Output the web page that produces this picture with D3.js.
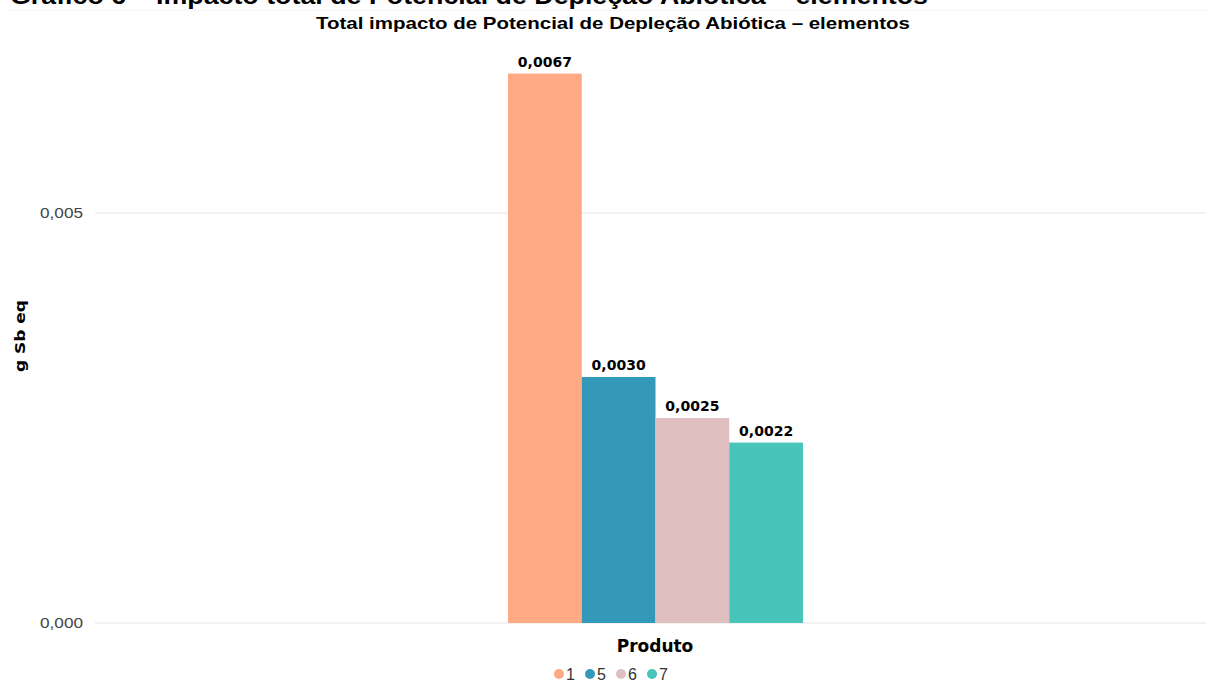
<!DOCTYPE html>
<html>
<head>
<meta charset="utf-8">
<script src="https://cdn.jsdelivr.net/npm/d3@7"></script>
<style>
  body { margin: 0; background: #fff; }
  svg { display: block; font-family: "Liberation Sans", Arial, sans-serif; }
</style>
</head>
<body>
<svg id="chart" width="1206" height="682"></svg>
<script>
// data
const produtos = ["1", "5", "6", "7"];
const valores = [0.0067, 0.0030, 0.0025, 0.0022];
const rotulos = ["0,0067", "0,0030", "0,0025", "0,0022"];
const yTicks = [0, 0.005];
const cores = ["#FFAA85", "#3499B8", "#DFBFBF", "#48C5BA"];

const svg = d3.select("#chart");
const fmt = d => d3.format(".3f")(d).replace(".", ",");

// page title, cut off at the top like the source image
svg.append("text").attr("x", 10).attr("y", 4)
  .attr("font-size", 24).attr("font-weight", "bold").attr("fill", "#000")
  .attr("textLength", 918).attr("lengthAdjust", "spacingAndGlyphs")
  .text("Gráfico 6 – Impacto total de Potencial de Depleção Abiótica – elementos");
svg.append("line").attr("x1", 10).attr("x2", 1206).attr("y1", 10).attr("y2", 10)
  .attr("stroke", "#f2f2f2");

svg.append("text").attr("x", 316).attr("y", 29)
  .attr("font-size", 17).attr("font-weight", "bold")
  .attr("textLength", 594).attr("lengthAdjust", "spacingAndGlyphs")
  .text("Total impacto de Potencial de Depleção Abiótica – elementos");

const margin = {top: 0, left: 95, right: 0};
const y = d3.scaleLinear().domain([0, 0.005]).range([623, 213]);
const x = d3.scaleBand().domain(produtos).range([508, 803]);

// grid + ticks
const grid = svg.append("g");
yTicks.forEach(t => {
  grid.append("line").attr("x1", margin.left).attr("x2", 1206)
    .attr("y1", y(t)).attr("y2", y(t)).attr("stroke", "#eeeeee").attr("stroke-width", 1.5);
  grid.append("text").attr("x", 40).attr("y", y(t) + 5)
    .attr("font-size", 15).attr("fill", "#444")
    .attr("textLength", 43).attr("lengthAdjust", "spacingAndGlyphs")
    .text(fmt(t));
});

svg.append("text").attr("transform", "translate(25,336) rotate(-90)")
  .attr("text-anchor", "middle").attr("font-size", 14).attr("font-weight", "bold")
  .attr("font-family", "'DejaVu Sans', sans-serif")
  .attr("textLength", 72).attr("lengthAdjust", "spacingAndGlyphs")
  .text("g Sb eq");

// bars
svg.append("g").selectAll("rect").data(produtos).join("rect")
  .attr("x", d => x(d)).attr("width", x.bandwidth())
  .attr("y", (d, i) => y(valores[i]))
  .attr("height", (d, i) => y(0) - y(valores[i]))
  .attr("fill", (d, i) => cores[i]);

svg.append("g").selectAll("text").data(produtos).join("text")
  .attr("x", d => x(d) + x.bandwidth() / 2)
  .attr("y", (d, i) => y(valores[i]) - 7)
  .attr("text-anchor", "middle").attr("font-size", 14).attr("font-weight", "bold")
  .attr("font-family", "'DejaVu Sans', sans-serif")
  .text((d, i) => rotulos[i]);

svg.append("text").attr("x", 655).attr("y", 652).attr("text-anchor", "middle")
  .attr("font-size", 17).attr("font-weight", "bold")
  .attr("font-family", "'DejaVu Sans', sans-serif")
  .text("Produto");

// legend
const leg = svg.append("g").attr("transform", "translate(553,674)");
produtos.forEach((p, i) => {
  const g = leg.append("g").attr("transform", `translate(${i * 31},0)`);
  g.append("circle").attr("cx", 6).attr("cy", 0).attr("r", 5).attr("fill", cores[i]);
  g.append("text").attr("x", 13).attr("y", 6).attr("font-size", 16).attr("fill", "#333").text(p);
});
</script>
</body>
</html>
